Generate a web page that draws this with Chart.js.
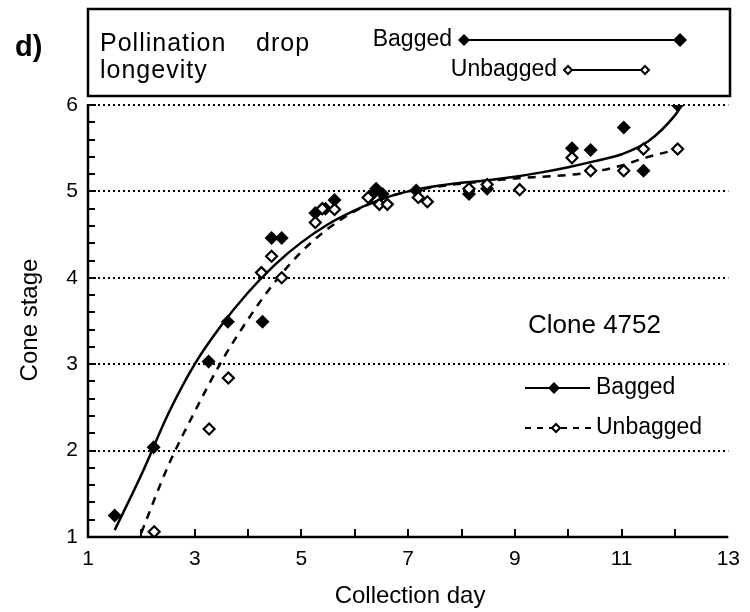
<!DOCTYPE html>
<html>
<head>
<meta charset="utf-8">
<script src="https://cdn.jsdelivr.net/npm/chart.js@4/dist/chart.umd.min.js"></script>
<style>
  html, body { margin: 0; padding: 0; background: #fff; }
  #wrap { position: relative; width: 750px; height: 612px; }
</style>
</head>
<body>
<div id="wrap"><canvas id="c" width="750" height="612"></canvas></div>
<script>
// ---- data ----
const bagDay   = [1.5, 2.23, 3.26, 3.62, 4.27, 4.44, 4.63, 5.26, 5.45, 5.62, 6.3, 6.4, 6.52, 7.15, 8.14, 8.48, 10.07, 10.42, 11.04, 11.41, 12.05];
const bagStage = [1.25, 2.04, 3.03, 3.49, 3.49, 4.46, 4.46, 4.75, 4.8, 4.9, 4.95, 5.03, 4.97, 5.01, 4.97, 5.03, 5.5, 5.48, 5.74, 5.24, 6.0];

const unbagDay   = [2.24, 3.27, 3.63, 4.25, 4.44, 4.63, 5.26, 5.39, 5.62, 6.25, 6.46, 6.61, 7.19, 7.36, 8.14, 8.48, 9.09, 10.07, 10.42, 11.04, 11.41, 12.05];
const unbagStage = [1.06, 2.25, 2.84, 4.06, 4.25, 4.0, 4.64, 4.8, 4.79, 4.93, 4.85, 4.85, 4.93, 4.88, 5.03, 5.08, 5.02, 5.39, 5.24, 5.24, 5.49, 5.49];

// fitted curves
const bagFitDay   = [1.5, 2, 2.5, 3, 3.5, 4, 4.5, 5, 5.5, 6, 6.5, 7, 7.5, 8, 8.5, 9, 9.5, 10, 10.5, 11, 11.5, 12, 12.1];
const bagFit      = [1.08, 1.72, 2.42, 3.0, 3.45, 3.83, 4.15, 4.41, 4.62, 4.78, 4.91, 5.0, 5.06, 5.1, 5.13, 5.17, 5.22, 5.28, 5.35, 5.43, 5.58, 5.88, 5.97];
const unbagFitDay = [2.0, 2.5, 3, 3.5, 4, 4.5, 5, 5.5, 6, 6.5, 7, 7.5, 8, 8.5, 9, 9.5, 10, 10.5, 11, 11.5, 12, 12.05];
const unbagFit    = [1.05, 1.82, 2.45, 3.03, 3.52, 3.95, 4.3, 4.57, 4.77, 4.91, 5.0, 5.05, 5.09, 5.12, 5.15, 5.17, 5.19, 5.23, 5.3, 5.4, 5.48, 5.49];

const xTicks = [1, 3, 5, 7, 9, 11, 13];
const yTicks = [1, 2, 3, 4, 5, 6];

const FONT = '"Liberation Sans", Arial, sans-serif';

function pts(xs, ys) { return xs.map((x, i) => ({ x: x, y: ys[i] })); }

function diamond(ctx, x, y, r, filled) {
  ctx.save();
  ctx.beginPath();
  ctx.moveTo(x, y - r); ctx.lineTo(x + r, y); ctx.lineTo(x, y + r); ctx.lineTo(x - r, y); ctx.closePath();
  if (filled) { ctx.fillStyle = '#000'; ctx.fill(); }
  else { ctx.fillStyle = '#fff'; ctx.fill(); ctx.lineWidth = 2; ctx.strokeStyle = '#000'; ctx.setLineDash([]); ctx.stroke(); }
  ctx.restore();
}

const decor = {
  id: 'decor',
  beforeDatasetsDraw(chart) {
    const ctx = chart.ctx, a = chart.chartArea;
    const ys = chart.scales.y, xs = chart.scales.x;
    ctx.save();
    // dotted gridlines
    ctx.strokeStyle = '#000'; ctx.lineWidth = 2; ctx.setLineDash([2, 3]);
    yTicks.forEach(v => {
      if (v === 1) return;
      const py = Math.round(ys.getPixelForValue(v));
      ctx.beginPath(); ctx.moveTo(a.left, py); ctx.lineTo(a.right, py); ctx.stroke();
    });
    ctx.setLineDash([]);
    // axes
    ctx.lineWidth = 2.5;
    ctx.beginPath(); ctx.moveTo(a.left, a.top - 1); ctx.lineTo(a.left, a.bottom); ctx.lineTo(a.right, a.bottom); ctx.stroke();
    // inward ticks
    ctx.lineWidth = 2;
    for (let i = 0; i <= 25; i++) {
      const v = 1 + i * 0.2;
      const py = Math.round(ys.getPixelForValue(v));
      const len = (i % 5 === 0) ? 8 : 7;
      ctx.beginPath(); ctx.moveTo(a.left, py); ctx.lineTo(a.left + len, py); ctx.stroke();
    }
    for (let d = 2; d <= 12; d++) {
      const px = Math.round(xs.getPixelForValue(d));
      ctx.beginPath(); ctx.moveTo(px, a.bottom); ctx.lineTo(px, a.bottom - 8); ctx.stroke();
    }
    ctx.restore();
  },
  afterDraw(chart) {
    const ctx = chart.ctx;
    ctx.save();
    ctx.fillStyle = '#000'; ctx.strokeStyle = '#000';
    ctx.textBaseline = 'middle';
    // panel letter
    ctx.font = 'bold 29px ' + FONT; ctx.textAlign = 'left';
    ctx.fillText('d)', 15, 48);
    // top legend box
    ctx.lineWidth = 2.5;
    ctx.strokeRect(88, 9, 642, 87);
    ctx.font = '25px ' + FONT;
    ctx.letterSpacing = '1px';
    ctx.fillText('Pollination', 100, 44);
    ctx.fillText('drop', 256, 44);
    ctx.fillText('longevity', 100, 71);
    ctx.letterSpacing = '0px';
    ctx.font = '23px ' + FONT;
    ctx.textAlign = 'right';
    ctx.fillText('Bagged', 452, 40);
    ctx.fillText('Unbagged', 557, 70);
    ctx.lineWidth = 2;
    ctx.beginPath(); ctx.moveTo(464, 40); ctx.lineTo(680, 40); ctx.stroke();
    diamond(ctx, 464, 40, 6, true); diamond(ctx, 680, 40, 7, true);
    ctx.beginPath(); ctx.moveTo(568, 70); ctx.lineTo(645, 70); ctx.stroke();
    diamond(ctx, 568, 70, 4, false); diamond(ctx, 645, 70, 4, false);

    // inner legend
    ctx.fillStyle = '#000';
    ctx.textAlign = 'left';
    ctx.font = '26px ' + FONT;
    ctx.fillText('Clone 4752', 528, 326);
    ctx.font = '23px ' + FONT;
    ctx.lineWidth = 2;
    ctx.beginPath(); ctx.moveTo(525, 388); ctx.lineTo(590, 388); ctx.stroke();
    diamond(ctx, 554, 388, 6, true);
    ctx.fillText('Bagged', 596, 388);
    ctx.setLineDash([6, 6]);
    ctx.beginPath(); ctx.moveTo(525, 428); ctx.lineTo(592, 428); ctx.stroke();
    ctx.setLineDash([]);
    diamond(ctx, 556, 428, 4, false);
    ctx.fillText('Unbagged', 596, 428);

    // axis titles
    ctx.font = '24px ' + FONT; ctx.textAlign = 'center';
    ctx.fillText('Collection day', 410, 596);
    ctx.translate(30, 320); ctx.rotate(-Math.PI / 2);
    ctx.fillText('Cone stage', 0, 0);
    ctx.restore();
  }
};

new Chart(document.getElementById('c'), {
  type: 'scatter',
  data: {
    datasets: [
      { label: 'Bagged', data: pts(bagDay, bagStage), pointStyle: 'rectRot', pointRadius: 7,
        backgroundColor: '#000', borderColor: '#000', borderWidth: 0, showLine: false, order: 1 },
      { label: 'Unbagged', data: pts(unbagDay, unbagStage), pointStyle: 'rectRot', pointRadius: 5.5,
        backgroundColor: '#fff', borderColor: '#000', borderWidth: 2.2, showLine: false, order: 0 },
      { label: 'Bagged fit', data: pts(bagFitDay, bagFit), showLine: true, pointRadius: 0,
        borderColor: '#000', borderWidth: 2.5, cubicInterpolationMode: 'monotone', fill: false, order: 3 },
      { label: 'Unbagged fit', data: pts(unbagFitDay, unbagFit), showLine: true, pointRadius: 0,
        borderColor: '#000', borderWidth: 2.5, borderDash: [8, 7], cubicInterpolationMode: 'monotone', fill: false, order: 2 }
    ]
  },
  options: {
    responsive: false,
    animation: false,
    layout: { padding: { top: 105, right: 20, left: 0, bottom: 0 } },
    plugins: { legend: { display: false }, tooltip: { enabled: false }, title: { display: false } },
    scales: {
      x: {
        type: 'linear', min: 1, max: 13,
        grid: { display: false, drawTicks: false }, border: { display: false },
        afterBuildTicks: s => { s.ticks = xTicks.map(v => ({ value: v })); },
        ticks: { color: '#000', font: { size: 21, family: FONT }, padding: 10, maxRotation: 0, autoSkip: false },
        afterFit: s => { s.height = 75; }
      },
      y: {
        type: 'linear', min: 1, max: 6,
        grid: { display: false, drawTicks: false }, border: { display: false },
        afterBuildTicks: s => { s.ticks = yTicks.map(v => ({ value: v })); },
        ticks: { color: '#000', font: { size: 21, family: FONT }, padding: 10 },
        afterFit: s => { s.width = 88; }
      }
    }
  },
  plugins: [decor]
});
</script>
</body>
</html>
